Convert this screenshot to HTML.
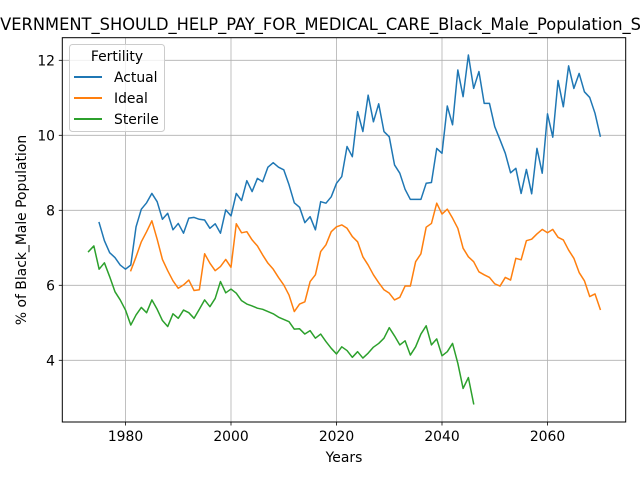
<!DOCTYPE html>
<html><head><meta charset="utf-8"><style>
html,body{margin:0;padding:0;background:#fff;}
svg{display:block;font-family:"DejaVu Sans","Liberation Sans",sans-serif;}
</style></head><body>
<svg id="chart" width="640" height="480" viewBox="0 0 640 480" xmlns="http://www.w3.org/2000/svg">
<rect x="0" y="0" width="640" height="480" fill="#fff"/>
<text x="-25" y="30" font-size="16.7" textLength="666" lengthAdjust="spacingAndGlyphs">GOVERNMENT_SHOULD_HELP_PAY_FOR_MEDICAL_CARE_Black_Male_Population_S</text>
<g id="grid"></g>
<g id="series"></g>
<rect x="62.3" y="37.7" width="563.4" height="384.3" fill="none" stroke="#000" stroke-width="1"/>
<g id="ticks"></g>
<text x="344" y="462" font-size="13.9" text-anchor="middle">Years</text>
<text x="26" y="230" font-size="13.9" text-anchor="middle" transform="rotate(-90 26 230)">% of Black_Male Population</text>
<g>
<rect x="69.5" y="44.5" width="95" height="87" rx="3" fill="#fff" fill-opacity="0.8" stroke="#ccc"/>
<text x="117" y="61" font-size="13.9" text-anchor="middle">Fertility</text>
<g><line x1="74" y1="77" x2="102" y2="77" stroke="#1f77b4" stroke-width="2"/><text x="114" y="82" font-size="13.9">Actual</text></g>
<g><line x1="74" y1="98" x2="102" y2="98" stroke="#ff7f0e" stroke-width="2"/><text x="114" y="103" font-size="13.9">Ideal</text></g>
<g><line x1="74" y1="119" x2="102" y2="119" stroke="#2ca02c" stroke-width="2"/><text x="114" y="124" font-size="13.9">Sterile</text></g>
</g>
</svg>
<script>
const xTicks = [1980, 2000, 2020, 2040, 2060];
const yTicks = [4, 6, 8, 10, 12];
const actualStart = 1975;
const actualValues = [7.67,7.19,6.87,6.74,6.54,6.43,6.54,7.56,8.03,8.2,8.45,8.23,7.76,7.92,7.48,7.65,7.39,7.79,7.81,7.76,7.74,7.52,7.64,7.39,8.01,7.85,8.45,8.26,8.79,8.5,8.85,8.76,9.15,9.27,9.15,9.08,8.68,8.2,8.08,7.67,7.83,7.48,8.23,8.19,8.36,8.72,8.9,9.7,9.43,10.63,10.1,11.07,10.36,10.84,10.1,9.96,9.21,8.99,8.56,8.29,8.29,8.29,8.72,8.74,9.65,9.52,10.78,10.28,11.74,11.03,12.14,11.25,11.7,10.85,10.85,10.23,9.88,9.52,9.0,9.12,8.45,9.09,8.44,9.65,8.99,10.57,9.95,11.46,10.76,11.85,11.25,11.65,11.16,11.01,10.59,9.98];
const idealStart = 1981;
const idealValues = [6.39,6.76,7.16,7.43,7.72,7.23,6.69,6.39,6.12,5.92,6.01,6.14,5.86,5.88,6.84,6.59,6.39,6.5,6.69,6.48,7.64,7.4,7.43,7.21,7.05,6.81,6.59,6.43,6.21,6.01,5.74,5.3,5.5,5.56,6.1,6.28,6.9,7.08,7.43,7.56,7.61,7.52,7.3,7.16,6.76,6.54,6.28,6.07,5.88,5.79,5.61,5.68,5.98,5.98,6.63,6.84,7.55,7.65,8.19,7.9,8.03,7.79,7.52,6.99,6.76,6.63,6.36,6.28,6.21,6.04,5.98,6.21,6.14,6.72,6.68,7.19,7.23,7.37,7.49,7.4,7.49,7.28,7.21,6.94,6.72,6.34,6.12,5.7,5.77,5.36];
const sterileStart = 1973;
const sterileValues = [6.9,7.05,6.43,6.6,6.23,5.83,5.61,5.34,4.94,5.21,5.41,5.27,5.61,5.36,5.06,4.9,5.24,5.12,5.34,5.27,5.12,5.36,5.61,5.43,5.65,6.1,5.8,5.9,5.79,5.59,5.5,5.45,5.39,5.36,5.3,5.24,5.15,5.09,5.03,4.83,4.84,4.7,4.79,4.59,4.7,4.5,4.32,4.17,4.36,4.26,4.08,4.23,4.06,4.19,4.35,4.45,4.59,4.87,4.65,4.41,4.52,4.14,4.36,4.7,4.92,4.41,4.57,4.12,4.23,4.45,3.92,3.25,3.54,2.84];

const NS = "http://www.w3.org/2000/svg";
function xScale(yr){ return 125.5 + (yr - 1980) * 5.275; }
function yScale(v){ return 360.3 - (v - 4) * 37.5; }
function mk(tag, attrs, parent){ const e = document.createElementNS(NS, tag); for (const k in attrs) e.setAttribute(k, attrs[k]); parent.appendChild(e); return e; }
const grid = document.getElementById('grid');
const ticks = document.getElementById('ticks');
xTicks.forEach(t => {
  const x = xScale(t);
  const g = mk('line', {x1:x, x2:x, y1:37.7, y2:422, stroke:'#b0b0b0', 'stroke-width':0.8}, grid);
  
  
  mk('line', {x1:x, x2:x, y1:422, y2:425.5, stroke:'#000', 'stroke-width':0.8}, ticks);
  const tx = mk('text', {x:x, y:441, 'font-size':13.9, 'text-anchor':'middle'}, ticks);
  tx.textContent = t;
  
  
});
yTicks.forEach(t => {
  const y = yScale(t);
  const g = mk('line', {x1:62.3, x2:625.7, y1:y, y2:y, stroke:'#b0b0b0', 'stroke-width':0.8}, grid);
  
  
  mk('line', {x1:58.8, x2:62.3, y1:y, y2:y, stroke:'#000', 'stroke-width':0.8}, ticks);
  const tx = mk('text', {x:55, y:y+5, 'font-size':13.9, 'text-anchor':'end'}, ticks);
  tx.textContent = t;
  
  
});
const series = document.getElementById('series');
function drawLine(start, vals, color, name){
  const pts = vals.map((v,i) => xScale(start+i).toFixed(2)+','+yScale(v).toFixed(2)).join(' ');
  const p = mk('polyline', {points:pts, fill:'none', stroke:color, 'stroke-width':1.5, 'stroke-linejoin':'round', 'stroke-linecap':'square'}, series);
  
  
}
drawLine(actualStart, actualValues, '#1f77b4', 'actual-line');
drawLine(idealStart, idealValues, '#ff7f0e', 'ideal-line');
drawLine(sterileStart, sterileValues, '#2ca02c', 'sterile-line');
</script>
</body></html>
